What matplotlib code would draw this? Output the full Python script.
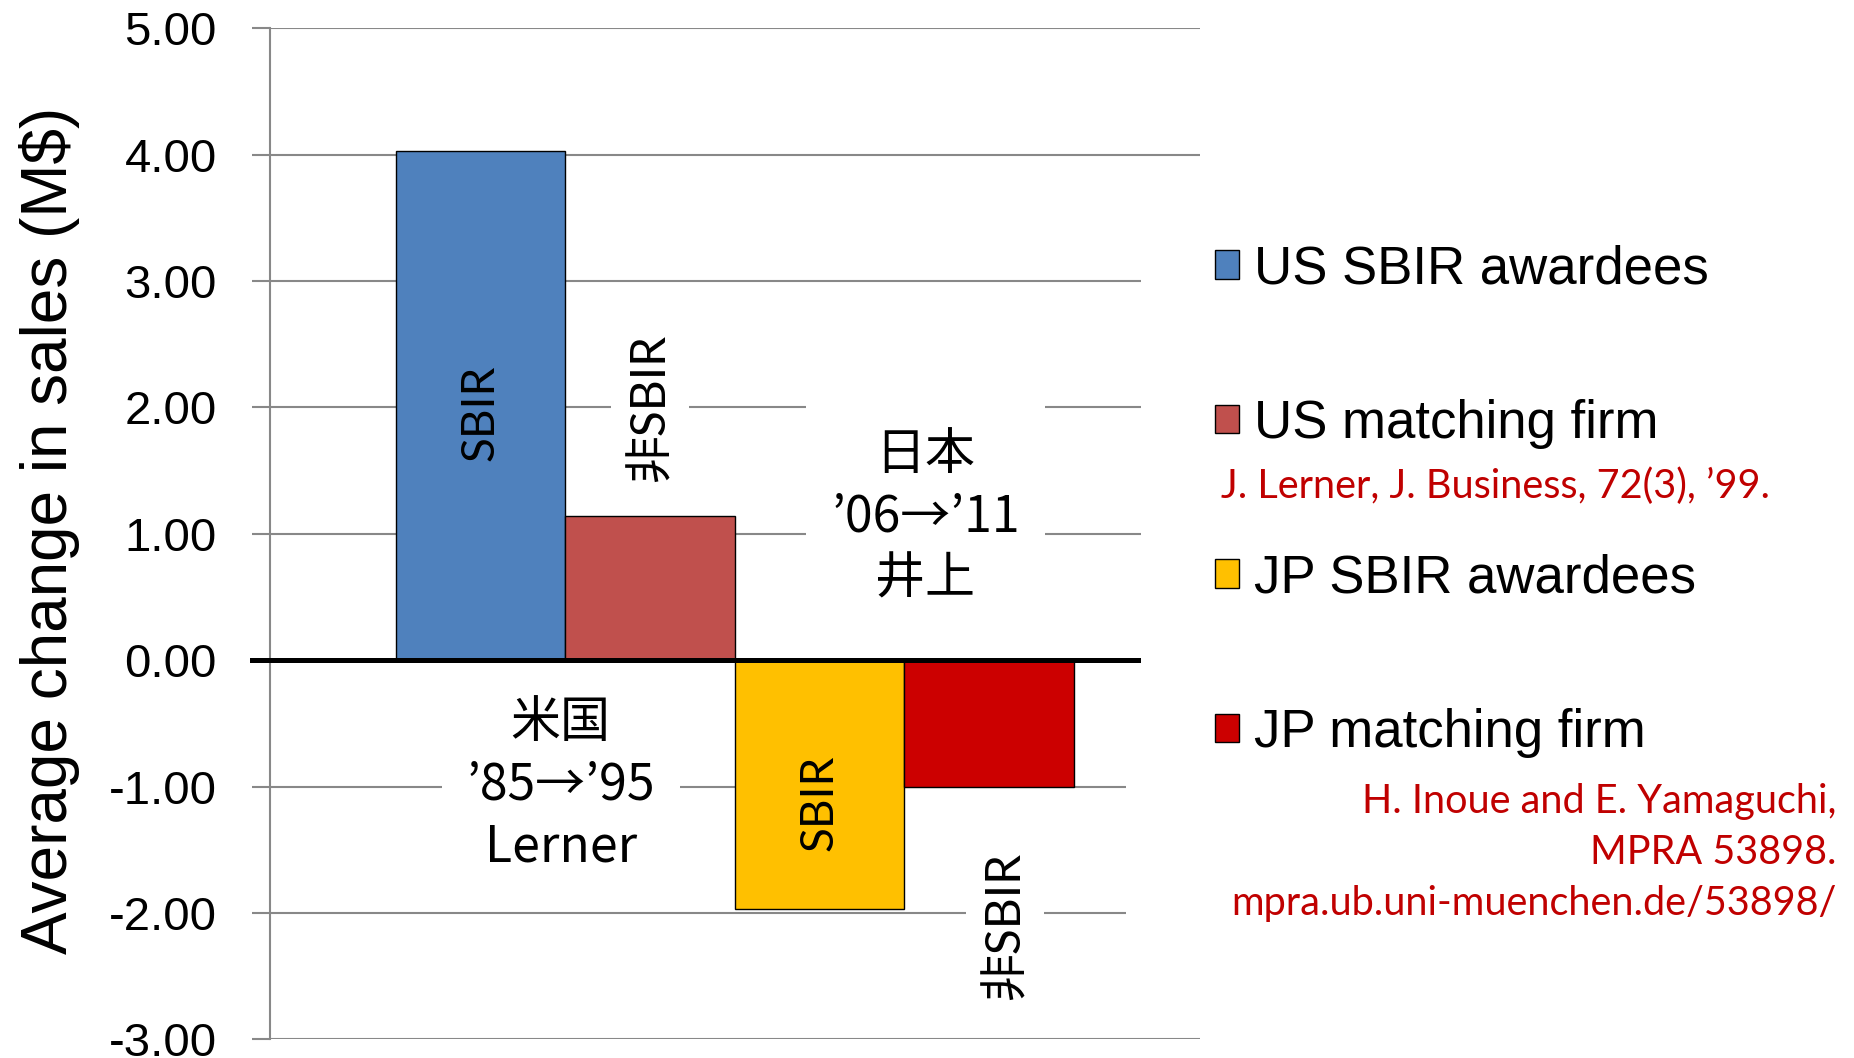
import matplotlib
matplotlib.use("Agg")
from matplotlib import pyplot as plt
from matplotlib.patches import Rectangle
import numpy as np

# values (M$)
series_labels = ["US SBIR awardees", "US matching firm", "JP SBIR awardees", "JP matching firm"]
series_values = [4.03, 1.14, -1.97, -1.00]
series_colors = ["#4F81BD", "#C0504D", "#FFC000", "#CC0000"]
bar_texts = ["SBIR", "非SBIR", "SBIR", "非SBIR"]
y_ticks = [5.0, 4.0, 3.0, 2.0, 1.0, 0.0, -1.0, -2.0, -3.0]
y_label = "Average change in sales (M$)"
us_note = "米国\n’85→’95\nLerner"
jp_note = "日本\n’06→’11\n井上"
us_cite = "J. Lerner, J. Business, 72(3), ’99."
jp_cite = ["H. Inoue and E. Yamaguchi,", "MPRA 53898.", "mpra.ub.uni-muenchen.de/53898/"]

GRID = "#888888"
CITE = "#C00000"
latin_cjk = ["Lato", "Noto Sans CJK JP"]

fig = plt.figure(figsize=(18.54, 10.58), dpi=100)
ax = fig.add_axes([0.1454, 0.0177, 0.5018, 0.9555])

width = 0.1823
xpos = (np.arange(len(series_values)) - 1.5) * width
bars = []
for i, v in enumerate(series_values):
    b = ax.bar(xpos[i], v, width, color=series_colors[i], edgecolor="black",
               linewidth=1.0, zorder=2, label=series_labels[i])
    bars.append(b)

ax.axhline(0, xmin=-0.0194, xmax=1, color="black", lw=3.6, zorder=3, clip_on=False)

ax.set_xlim(-0.5, 0.5)
ax.set_ylim(-3, 5)
ax.set_xticks([])
ax.set_yticks(y_ticks)
ax.set_yticklabels([f"{v:.2f}" for v in y_ticks], family="Liberation Sans", fontsize=34)
ax.tick_params(axis="y", direction="out", length=13, width=1.5, color=GRID, pad=25)
ax.set_axisbelow(True)
ax.yaxis.grid(True, color=GRID, lw=1.5)
for s in ["top", "right", "bottom"]:
    ax.spines[s].set_visible(False)
ax.spines["left"].set_color(GRID)
ax.spines["left"].set_linewidth(1.5)

ax.set_ylabel(y_label, family="Liberation Sans", fontsize=46, va="center")
ax.yaxis.set_label_coords(-0.237, 0.503)

# labels on / next to the bars
label_dx = [0.0, 0.0, 0.0, 0.017]
label_y = [1.96, 2.0, -1.13, -2.1]
for i, t in enumerate(bar_texts):
    inside = i in (0, 2)
    ax.text(xpos[i] + label_dx[i], label_y[i], t, rotation=90, ha="center", va="center",
            family=latin_cjk, fontsize=33 if inside else 34.5, zorder=4,
            bbox=None if inside else dict(fc="white", ec="none", pad=12))

ax.text(-0.187, -0.99, us_note, ha="center", va="center", family="Noto Sans CJK JP",
        fontsize=36, linespacing=1.25, zorder=4,
        bbox=dict(fc="white", ec="none", pad=18))
ax.text(0.205, 1.13, jp_note, ha="center", va="center", family="Noto Sans CJK JP",
        fontsize=36, linespacing=1.25, zorder=4,
        bbox=dict(fc="white", ec="none", pad=18))

# white areas behind legend and citations (hide the gridlines there)
fig.add_artist(Rectangle((0.6154, 0.2845), 0.3846, 0.548, transform=fig.transFigure,
                         fc="white", ec="none", zorder=1))
fig.add_artist(Rectangle((0.6073, 0.106), 0.3927, 0.1785, transform=fig.transFigure,
                         fc="white", ec="none", zorder=1))

fig.legend(handles=bars, labels=series_labels, loc="upper left",
           bbox_to_anchor=(0.6554, 0.769), frameon=False,
           prop={"family": "Liberation Sans", "size": 38},
           handlelength=0.46, handleheight=0.46, handletextpad=0.27,
           labelspacing=1.98, borderaxespad=0, borderpad=0)

fig.text(0.6586, 0.5406, us_cite, ha="left", va="center", color=CITE,
         family="Lato", fontsize=28.5, zorder=3)
for i, line in enumerate(jp_cite):
    fig.text(0.9905, 1 - (801 + 51.5 * i) / 1058, line, ha="right", va="center",
             color=CITE, family="Lato", fontsize=28.5, zorder=3)

fig.savefig("out.png", dpi=100)
